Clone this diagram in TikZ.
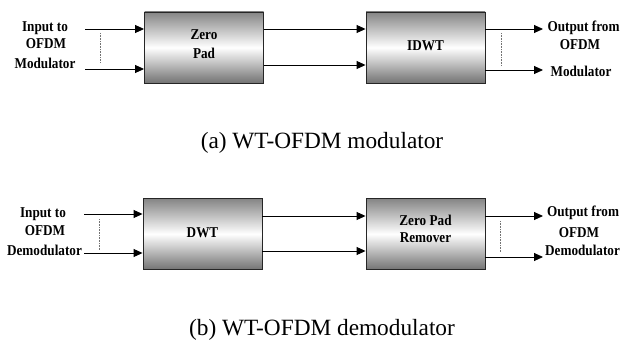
\documentclass[tikz,border=0pt]{standalone}
\usepackage{fontspec}
\setmainfont{Liberation Serif}
\newfontfamily\lblfont[FakeStretch=0.88]{Liberation Serif}
\usetikzlibrary{arrows.meta}
\begin{document}
\begin{tikzpicture}[x=1pt,y=-1pt,
  blk/.style={draw=black!85,line width=0.9pt,minimum width=119pt,minimum height=71pt,inner sep=0pt,
    top color=black!48,bottom color=black!55,middle color=white},
  lbl/.style={font=\lblfont\bfseries\fontsize{15}{17}\selectfont,inner sep=0pt},
  captext/.style={font=\fontsize{23.3}{28}\selectfont,inner sep=0pt},
  arr/.style={line width=0.9pt,-{Triangle[length=9pt,width=8pt]}},
  dots/.style={black!55,line width=0.8pt,dash pattern=on 0.8pt off 0.8pt}]
\useasboundingbox (0,0) rectangle (620,345);
% ---- (a) modulator ----
\node[blk] (zp) at (204,47.5) {};
\node[blk] (idwt) at (425.5,47.5) {};
\node[lbl] (zpt1) at (204,35) {Zero};
\node[lbl] (zpt2) at (204,53) {Pad};
\node[lbl] (idwtt) at (425.5,46) {IDWT};
\coordinate (ain1) at (85,29);
\coordinate (ain2) at (85,69);
\coordinate (am1) at (0,29);
\coordinate (am2) at (0,65);
\coordinate (aout1) at (543,29);
\coordinate (aout2) at (543,70);
\draw[arr] (ain1) -- (ain1 -| zp.west);
\draw[arr] (ain2) -- (ain2 -| zp.west);
\draw[arr] (am1 -| zp.east) -- (am1 -| idwt.west);
\draw[arr] (am2 -| zp.east) -- (am2 -| idwt.west);
\draw[arr] (aout1 -| idwt.east) -- (aout1);
\draw[arr] (aout2 -| idwt.east) -- (aout2);
\coordinate (ad1a) at (100,33); \coordinate (ad1b) at (100,63);
\coordinate (ad2a) at (501,33); \coordinate (ad2b) at (501,66);
\draw[dots] (ad1a) -- (ad1b);
\draw[dots] (ad2a) -- (ad2b);
\node[lbl] (ail1) at (45,28) {Input to};
\node[lbl] (ail2) at (46,44) {OFDM};
\node[lbl] (ail3) at (45,63) {Modulator};
\node[lbl] (aol1) at (583.5,28) {Output from};
\node[lbl] (aol2) at (580,45) {OFDM};
\node[lbl] (aol3) at (581,71) {Modulator};
\node[captext] (capa) at (322,143) {(a) WT-OFDM modulator};
% ---- (b) demodulator ----
\node[blk] (dwt) at (202.5,234) {};
\node[blk] (zpr) at (425.5,234) {};
\node[lbl] (dwtt) at (202.5,233) {DWT};
\node[lbl] (zprt1) at (425.5,220) {Zero Pad};
\node[lbl] (zprt2) at (425.5,238) {Remover};
\coordinate (bin1) at (84,214);
\coordinate (bin2) at (84,253);
\coordinate (bm1) at (0,216);
\coordinate (bm2) at (0,251);
\coordinate (bout1) at (543,216);
\coordinate (bout2) at (543,257);
\draw[arr] (bin1) -- (bin1 -| dwt.west);
\draw[arr] (bin2) -- (bin2 -| dwt.west);
\draw[arr] (bm1 -| dwt.east) -- (bm1 -| zpr.west);
\draw[arr] (bm2 -| dwt.east) -- (bm2 -| zpr.west);
\draw[arr] (bout1 -| zpr.east) -- (bout1);
\draw[arr] (bout2 -| zpr.east) -- (bout2);
\coordinate (bd1a) at (99,219); \coordinate (bd1b) at (99,250);
\coordinate (bd2a) at (500,221); \coordinate (bd2b) at (500,252);
\draw[dots] (bd1a) -- (bd1b);
\draw[dots] (bd2a) -- (bd2b);
\node[lbl] (bil1) at (43,214) {Input to};
\node[lbl] (bil2) at (45,231) {OFDM};
\node[lbl] (bil3) at (44.5,250) {Demodulator};
\node[lbl] (bol1) at (583,213) {Output from};
\node[lbl] (bol2) at (579,233) {OFDM};
\node[lbl] (bol3) at (582.5,250) {Demodulator};
\node[captext] (capb) at (322,330) {(b) WT-OFDM demodulator};
\end{tikzpicture}
\end{document}
